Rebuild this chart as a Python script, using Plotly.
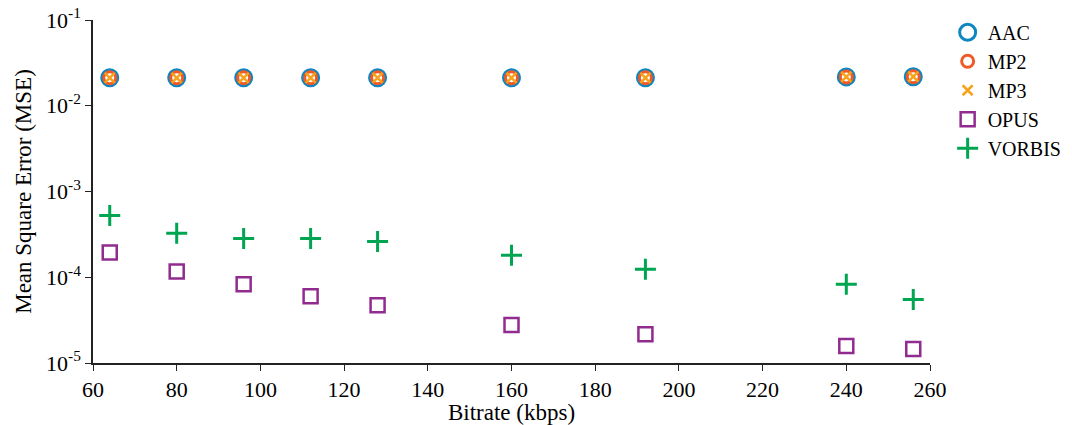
import plotly.graph_objects as go

bitrate = [64, 80, 96, 112, 128, 160, 192, 240, 256]
aac = [0.0212, 0.0212, 0.0212, 0.0212, 0.0212, 0.0212, 0.0212, 0.0217, 0.0218]
mp2 = [0.0212, 0.0212, 0.0212, 0.0212, 0.0212, 0.0212, 0.0212, 0.0217, 0.0218]
mp3 = [0.0212, 0.0212, 0.0212, 0.0212, 0.0212, 0.0212, 0.0212, 0.0217, 0.0218]
opus = [1.95e-4, 1.17e-4, 8.3e-5, 6.0e-5, 4.7e-5, 2.77e-5, 2.17e-5, 1.58e-5, 1.46e-5]
vorbis = [5.26e-4, 3.25e-4, 2.84e-4, 2.84e-4, 2.62e-4, 1.80e-4, 1.24e-4, 8.3e-5, 5.5e-5]

x_ticks = [60, 80, 100, 120, 140, 160, 180, 200, 220, 240, 260]
y_tickvals = [1e-5, 1e-4, 1e-3, 1e-2, 1e-1]
y_ticktext = ["10<sup>-5</sup>", "10<sup>-4</sup>", "10<sup>-3</sup>", "10<sup>-2</sup>", "10<sup>-1</sup>"]

FONT = "Liberation Serif"

fig = go.Figure()
fig.add_trace(go.Scatter(x=bitrate, y=aac, mode="markers", name="AAC",
                         marker=dict(symbol="circle-open", size=16, color="#0f86bf", line=dict(width=3, color="#0f86bf"))))
fig.add_trace(go.Scatter(x=bitrate, y=mp2, mode="markers", name="MP2",
                         marker=dict(symbol="circle-open", size=12, color="#f05a28", line=dict(width=3, color="#f05a28"))))
fig.add_trace(go.Scatter(x=bitrate, y=mp3, mode="markers", name="MP3",
                         marker=dict(symbol="x-thin-open", size=10, color="#f7a21b", line=dict(width=2.5, color="#f7a21b"))))
fig.add_trace(go.Scatter(x=bitrate, y=opus, mode="markers", name="OPUS",
                         marker=dict(symbol="square-open", size=14, color="#912b8f", line=dict(width=2.5, color="#912b8f"))))
fig.add_trace(go.Scatter(x=bitrate, y=vorbis, mode="markers", name="VORBIS",
                         marker=dict(symbol="cross-thin-open", size=15, color="#00a551", line=dict(width=3, color="#00a551"))))

fig.update_layout(
    width=1072, height=425,
    margin=dict(l=93, r=142, t=20, b=62, autoexpand=False),
    plot_bgcolor="white", paper_bgcolor="white",
    font=dict(family=FONT, size=22, color="black"),
    showlegend=True,
    legend=dict(xref="container", yref="container", x=0.884, y=0.97,
                xanchor="left", yanchor="top",
                font=dict(family=FONT, size=20, color="black"), tracegroupgap=0,
                itemwidth=30, bgcolor="rgba(0,0,0,0)"),
    xaxis=dict(range=[60, 260], tickvals=x_ticks, showgrid=False, zeroline=False,
               automargin=False,
               showline=True, linecolor="#222", linewidth=1.5, ticks="outside",
               ticklen=6, tickcolor="#222", tickfont=dict(family=FONT, size=22, color="black"),
               title=dict(text="Bitrate (kbps)", font=dict(family=FONT, size=23, color="black"), standoff=6)),
    yaxis=dict(type="log", range=[-5, -1], tickvals=y_tickvals, ticktext=y_ticktext,
               automargin=False,
               showgrid=False, zeroline=False, showline=True, linecolor="#222",
               linewidth=1.5, ticks="outside", ticklen=6, tickcolor="#222",
               tickfont=dict(family=FONT, size=22, color="black"),
               title=dict(text="Mean Square Error (MSE)", font=dict(family=FONT, size=23, color="black"), standoff=8)),
)

fig.write_html("out.html", config={"displayModeBar": False},
               post_script="document.body.style.margin='0';")
